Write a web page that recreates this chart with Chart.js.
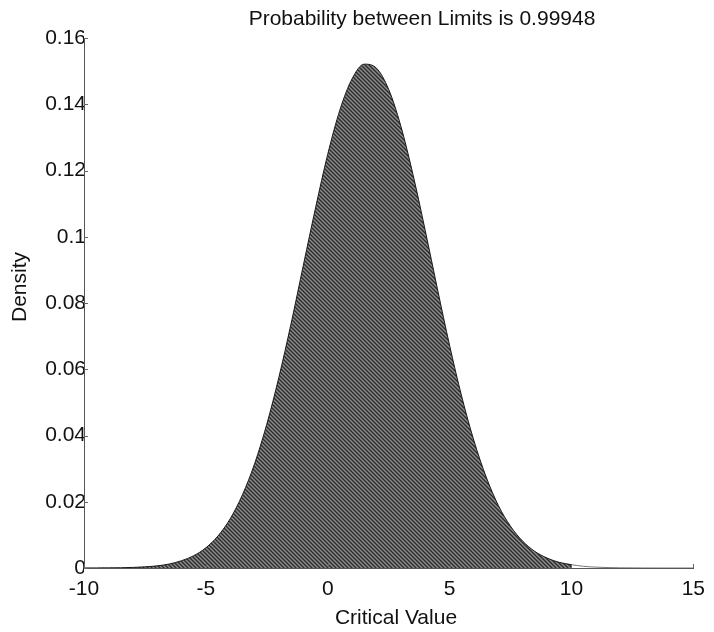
<!DOCTYPE html>
<html>
<head>
<meta charset="utf-8">
<title>Probability between Limits</title>
<script src="https://cdn.jsdelivr.net/npm/chart.js@4.4.1/dist/chart.umd.min.js"></script>
<style>
  html, body { margin: 0; padding: 0; background: #ffffff; }
  #wrap { position: relative; width: 714px; height: 632px; }
</style>
</head>
<body>
<div id="wrap"><canvas id="chart"></canvas></div>
<script>
// Density of the critical value, sampled every 0.5 inside the limits (-10 .. 10)
const criticalValues = [
  -10, -9.5, -9, -8.5, -8, -7.5, -7, -6.5, -6, -5.5,
  -5, -4.5, -4, -3.5, -3, -2.5, -2, -1.5, -1, -0.5,
  0, 0.5, 1, 1.5, 2, 2.5, 3, 3.5, 4, 4.5,
  5, 5.5, 6, 6.5, 7, 7.5, 8, 8.5, 9, 9.5, 10
];
const densityInside = [
  0.00001, 0.00002, 0.00004, 0.00008, 0.00017, 0.00034, 0.00065, 0.0012, 0.0022, 0.0037,
  0.0061, 0.0097, 0.0149, 0.0221, 0.0315, 0.0434, 0.0577, 0.0739, 0.0914, 0.1087,
  0.1249, 0.1383, 0.1477, 0.1521, 0.1509, 0.1445, 0.1334, 0.1187, 0.1019, 0.0843,
  0.0672, 0.0517, 0.0384, 0.0275, 0.0189, 0.0126, 0.0081, 0.0050, 0.0030, 0.0017, 0.0010
];

// Upper tail beyond the limit (drawn as a line only)
const criticalValuesTail = [10, 10.5, 11, 11.5, 12, 13, 14, 15];
const densityTail = [0.0010, 0.0005, 0.00026, 0.00013, 0.00006, 0.00001, 0, 0];

// Axis ticks
const xTicks = [-10, -5, 0, 5, 10, 15];
const yTicks = [0, 0.02, 0.04, 0.06, 0.08, 0.1, 0.12, 0.14, 0.16];
const yTickLabels = ['0', '0.02', '0.04', '0.06', '0.08', '0.1', '0.12', '0.14', '0.16'];

const titleText = 'Probability between Limits is 0.99948';
const xTitle = 'Critical Value';
const yTitle = 'Density';

const FONT = '"Liberation Sans", Arial, Helvetica, sans-serif';
const INK = '#111111';

// Speckled medium-dark grey fill for the area between the limits
function makeFillPattern() {
  const c = document.createElement('canvas');
  c.width = 4; c.height = 4;
  const g = c.getContext('2d');
  g.fillStyle = '#5c5c5c';
  g.fillRect(0, 0, 4, 4);
  for (let i = 0; i < 4; i++) {
    g.fillStyle = '#2a2a2a';
    g.fillRect(i, i, 1, 1);
    g.fillStyle = '#8e8e8e';
    g.fillRect((i + 2) % 4, i, 1, 1);
  }
  return g.createPattern(c, 'repeat');
}

const toPoints = (xs, ys) => xs.map((x, i) => ({ x: x, y: ys[i] }));

// Titles and inward-pointing tick marks
const decorations = {
  id: 'decorations',
  afterDraw(chart) {
    const ctx = chart.ctx;
    const area = chart.chartArea;
    const xs = chart.scales.x;
    const ys = chart.scales.y;
    ctx.save();
    ctx.strokeStyle = '#666666';
    ctx.lineWidth = 1;
    ctx.beginPath();
    yTicks.forEach(v => {
      const py = Math.round(ys.getPixelForValue(v)) + 0.5;
      ctx.moveTo(area.left, py);
      ctx.lineTo(area.left + 4, py);
    });
    xTicks.forEach(v => {
      const px = Math.round(xs.getPixelForValue(v)) + 0.5;
      ctx.moveTo(px, area.bottom);
      ctx.lineTo(px, area.bottom - 4);
    });
    ctx.stroke();

    ctx.fillStyle = INK;
    ctx.font = '21px ' + FONT;
    ctx.textAlign = 'center';
    ctx.textBaseline = 'alphabetic';
    ctx.fillText(titleText, 422, 25);
    ctx.fillText(xTitle, 396, 624);
    ctx.translate(26, 287);
    ctx.rotate(-Math.PI / 2);
    ctx.fillText(yTitle, 0, 0);
    ctx.restore();
  }
};

new Chart(document.getElementById('chart'), {
  type: 'line',
  data: {
    datasets: [
      {
        data: toPoints(criticalValues, densityInside),
        fill: 'origin',
        backgroundColor: makeFillPattern(),
        borderColor: '#1a1a1a',
        borderWidth: 1,
        pointRadius: 0,
        cubicInterpolationMode: 'monotone'
      },
      {
        data: toPoints(criticalValuesTail, densityTail),
        fill: false,
        borderColor: '#777777',
        borderWidth: 1,
        pointRadius: 0,
        cubicInterpolationMode: 'monotone'
      }
    ]
  },
  options: {
    responsive: true,
    maintainAspectRatio: false,
    devicePixelRatio: 1,
    animation: false,
    events: [],
    layout: { padding: { top: 38, right: 15, left: 0, bottom: 0 } },
    plugins: {
      legend: { display: false },
      tooltip: { enabled: false },
      title: { display: false }
    },
    scales: {
      x: {
        type: 'linear',
        min: -10,
        max: 15,
        afterBuildTicks: s => { s.ticks = xTicks.map(v => ({ value: v })); },
        afterFit: s => { s.height = 64; },
        grid: { display: false, drawTicks: false },
        border: { display: true, color: '#555555', width: 1 },
        ticks: {
          color: INK,
          font: { family: FONT, size: 21 },
          padding: 9,
          maxRotation: 0,
          callback: v => String(v)
        }
      },
      y: {
        type: 'linear',
        min: 0,
        max: 0.16,
        afterBuildTicks: s => { s.ticks = yTicks.map(v => ({ value: v })); },
        afterFit: s => { s.width = 84; },
        grid: { display: false, drawTicks: false },
        border: { display: true, color: '#555555', width: 1 },
        ticks: {
          color: INK,
          font: { family: FONT, size: 21 },
          padding: -2,
          callback: (v, i) => yTickLabels[i]
        }
      }
    }
  },
  plugins: [decorations]
});
</script>
</body>
</html>
